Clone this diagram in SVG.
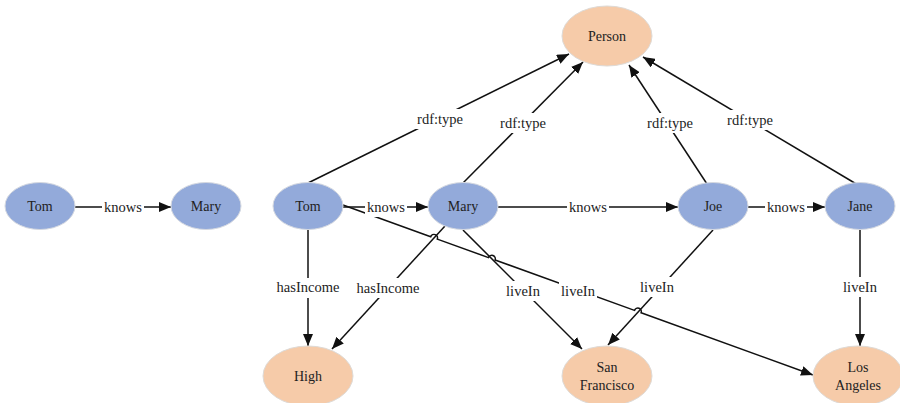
<svg xmlns="http://www.w3.org/2000/svg" width="900" height="403" viewBox="0 0 900 403">
<style>
.bn{fill:#93AADA;stroke:#d4d8e0;stroke-width:1}
.on{fill:#F6CBA9;stroke:#dedad6;stroke-width:1}
.nt{font-family:"Liberation Serif","Times New Roman",serif;font-size:14px;fill:#222;text-anchor:middle}
.e{fill:none;stroke:#111;stroke-width:1.5}
.lb{fill:#fff}
.lt{font-family:"Liberation Serif","Times New Roman",serif;font-size:14.5px;fill:#222;text-anchor:middle}
</style>
<defs>
<marker id="arr" markerWidth="12" markerHeight="10" refX="12" refY="5" orient="auto" markerUnits="userSpaceOnUse">
<path d="M0,0 L12,5 L0,10 z" fill="#111"/>
</marker>
</defs>
<rect width="900" height="403" fill="#fff"/>
<g id="connectors">
<line class="e" x1="75" y1="207" x2="171" y2="207" marker-end="url(#arr)"/>
<line class="e" x1="343" y1="207" x2="428" y2="207" marker-end="url(#arr)"/>
<line class="e" x1="498" y1="207" x2="678" y2="207" marker-end="url(#arr)"/>
<line class="e" x1="748" y1="207" x2="825" y2="207" marker-end="url(#arr)"/>
<line class="e" x1="308" y1="183" x2="569" y2="54" marker-end="url(#arr)"/>
<line class="e" x1="463" y1="183" x2="583" y2="62" marker-end="url(#arr)"/>
<line class="e" x1="707" y1="184" x2="629" y2="65" marker-end="url(#arr)"/>
<line class="e" x1="858" y1="185" x2="643" y2="57" marker-end="url(#arr)"/>
<line class="e" x1="308" y1="230" x2="308" y2="346" marker-end="url(#arr)"/>
<line class="e" x1="445" y1="226" x2="332" y2="349" marker-end="url(#arr)"/>
<line class="e" x1="463" y1="230" x2="582" y2="349" marker-end="url(#arr)"/>
<line class="e" x1="713" y1="230" x2="608" y2="345" marker-end="url(#arr)"/>
<line class="e" x1="860" y1="230" x2="860" y2="346" marker-end="url(#arr)"/>
<path class="e" d="M343,205 L430.7,236.7 A3.5,3.5 0 0 1 437.3,239.1 L488.5,257.6 A3.5,3.5 0 0 1 495.1,260.0 L634.5,310.4 A3.5,3.5 0 0 1 641.1,312.8 L813,375" marker-end="url(#arr)"/>
<g id="edge-labels">
<rect class="lb" x="102" y="197" width="42" height="20"/><text class="lt" x="123" y="212">knows</text>
<rect class="lb" x="365" y="197" width="42" height="20"/><text class="lt" x="386" y="212">knows</text>
<rect class="lb" x="567" y="197" width="42" height="20"/><text class="lt" x="588" y="212">knows</text>
<rect class="lb" x="765" y="197" width="42" height="20"/><text class="lt" x="786" y="212">knows</text>
<rect class="lb" x="415" y="109" width="50" height="20"/><text class="lt" x="440" y="124">rdf:type</text>
<rect class="lb" x="498" y="113" width="50" height="20"/><text class="lt" x="523" y="128">rdf:type</text>
<rect class="lb" x="645" y="113" width="50" height="20"/><text class="lt" x="670" y="128">rdf:type</text>
<rect class="lb" x="725" y="110" width="50" height="20"/><text class="lt" x="750" y="125">rdf:type</text>
<rect class="lb" x="275" y="278" width="66" height="20"/><text class="lt" x="308" y="292">hasIncome</text>
<rect class="lb" x="355" y="278" width="66" height="20"/><text class="lt" x="388" y="293">hasIncome</text>
<rect class="lb" x="504" y="281" width="38" height="20"/><text class="lt" x="523" y="296">liveIn</text>
<rect class="lb" x="559" y="281" width="38" height="20"/><text class="lt" x="578" y="296">liveIn</text>
<rect class="lb" x="638" y="277" width="38" height="20"/><text class="lt" x="657" y="292">liveIn</text>
<rect class="lb" x="841" y="277" width="38" height="20"/><text class="lt" x="860" y="292">liveIn</text>
</g>
</g>
<g id="tom1"><ellipse class="bn" cx="40" cy="206" rx="35" ry="23.5"/><text class="nt" x="40" y="211">Tom</text></g>
<g id="mary1"><ellipse class="bn" cx="206" cy="206" rx="35" ry="23.5"/><text class="nt" x="206" y="211">Mary</text></g>
<g id="tom"><ellipse class="bn" cx="308" cy="206" rx="35" ry="23.5"/><text class="nt" x="308" y="211">Tom</text></g>
<g id="mary"><ellipse class="bn" cx="463" cy="206" rx="35" ry="23.5"/><text class="nt" x="463" y="211">Mary</text></g>
<g id="joe"><ellipse class="bn" cx="713" cy="206" rx="35" ry="23.5"/><text class="nt" x="713" y="211">Joe</text></g>
<g id="jane"><ellipse class="bn" cx="860" cy="206" rx="35" ry="23.5"/><text class="nt" x="860" y="211">Jane</text></g>
<g id="person"><ellipse class="on" cx="607" cy="36" rx="45" ry="30"/><text class="nt" x="607" y="41">Person</text></g>
<g id="high"><ellipse class="on" cx="308" cy="376" rx="45" ry="30"/><text class="nt" x="308" y="381">High</text></g>
<g id="sanfrancisco"><ellipse class="on" cx="607" cy="376" rx="45" ry="30"/><text class="nt" x="607" y="372">San</text><text class="nt" x="607" y="390">Francisco</text></g>
<g id="losangeles"><ellipse class="on" cx="858" cy="376" rx="45" ry="30"/><text class="nt" x="858" y="372">Los</text><text class="nt" x="858" y="390">Angeles</text></g>
</svg>
